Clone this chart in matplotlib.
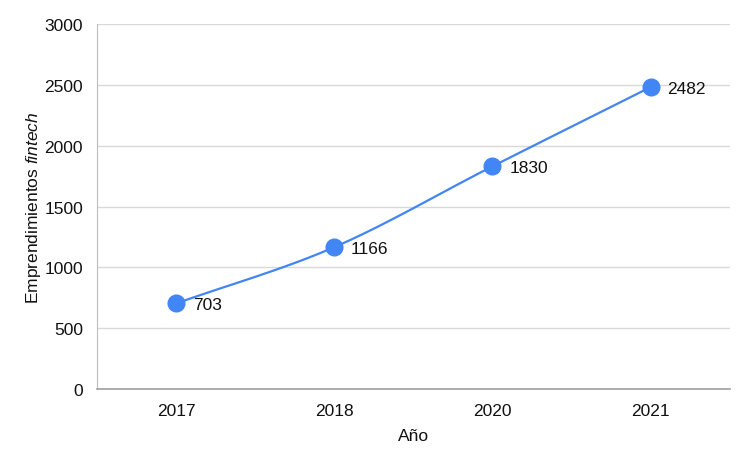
import numpy as np
import matplotlib.pyplot as plt

plt.rcParams['font.family'] = ['Liberation Sans', 'DejaVu Sans']
plt.rcParams['mathtext.fontset'] = 'custom'
plt.rcParams['mathtext.it'] = 'Liberation Sans:italic'
plt.rcParams['mathtext.rm'] = 'Liberation Sans'

years = ["2017", "2018", "2020", "2021"]
values = [703, 1166, 1830, 2482]
yticks = [0, 500, 1000, 1500, 2000, 2500, 3000]

azul = "#4285F4"

def suave(x, y, n=40):
    # curva suave tipo hermite (solo para dibujar la linea)
    x = np.asarray(x, float)
    y = np.asarray(y, float)
    m = np.gradient(y, x)
    xs, ys = [], []
    for i in range(len(x) - 1):
        h = x[i + 1] - x[i]
        t = np.linspace(0, 1, n)
        h00 = 2*t**3 - 3*t**2 + 1
        h10 = t**3 - 2*t**2 + t
        h01 = -2*t**3 + 3*t**2
        h11 = t**3 - t**2
        xs.extend(x[i] + t*h)
        ys.extend(h00*y[i] + h10*h*m[i] + h01*y[i+1] + h11*h*m[i+1])
    return np.array(xs), np.array(ys)

fig = plt.figure(figsize=(7.5, 4.64), dpi=100)
ax = fig.add_axes([0.1293, 0.1595, 0.8437, 0.7865])

xpos = np.arange(len(years))
xs, ys = suave(xpos, values)
ax.plot(xs, ys, color=azul, lw=1.6, zorder=3)
ax.plot(xpos, values, 'o', color=azul, ms=12, zorder=4)

for xp, v in zip(xpos, values):
    ax.annotate(str(v), (xp, v), xytext=(12, -1), textcoords='offset points',
                ha='left', va='center', fontsize=12.5, color='#111111')

ax.set_xlim(-0.5, len(years) - 0.5)
ax.set_ylim(0, 3000)
ax.set_xticks(xpos)
ax.set_xticklabels(years)
ax.set_yticks(yticks)
ax.tick_params(length=0, labelsize=12.5, colors='#111111', pad=10)
ax.tick_params(axis='y', pad=10)
ax.grid(axis='y', color='#d9d9d9', lw=1)
ax.set_axisbelow(True)
for s in ['top', 'right']:
    ax.spines[s].set_visible(False)
ax.spines['left'].set_color('#bdbdbd')
ax.spines['bottom'].set_color('#9e9e9e')
ax.spines['bottom'].set_linewidth(1.2)

ax.set_xlabel("Año", fontsize=12.5, color='#111111', labelpad=7)
ax.set_ylabel(r"Emprendimientos $\it{fintech}$", fontsize=12.5, color='#111111', labelpad=1)

fig.savefig("out.png", dpi=100)
